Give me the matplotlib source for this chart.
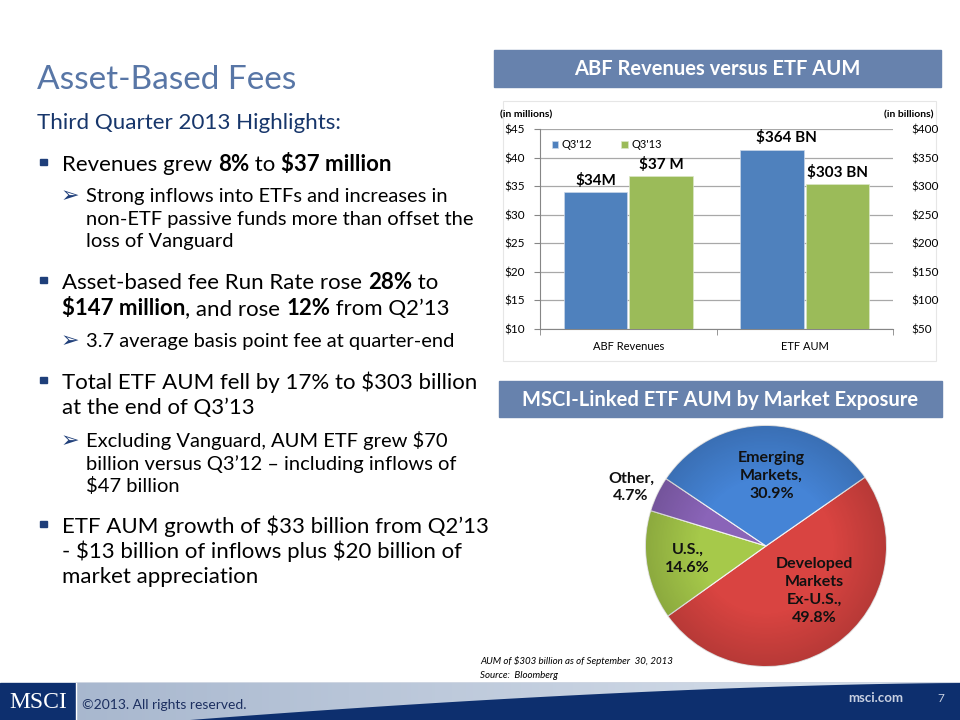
import matplotlib
matplotlib.use("Agg")
import matplotlib.pyplot as plt
from matplotlib.patches import Rectangle, Polygon, Circle
from matplotlib.font_manager import FontProperties
import numpy as np

FONT = "Lato"
plt.rcParams["font.family"] = [FONT, "DejaVu Sans"]
plt.rcParams["text.parse_math"] = False

# ---------------- data ----------------
bar_categories = ["ABF Revenues", "ETF AUM"]
series_names = ["Q3'12", "Q3'13"]
abf_revenues = [34.0, 36.8]        # $ millions, left axis
etf_aum = [364, 303]               # $ billions, right axis
abf_value_labels = ["$34M", "$37 M"]
etf_value_labels = ["$364 BN", "$303 BN"]
left_ticks = [10, 15, 20, 25, 30, 35, 40, 45]
right_ticks = [50, 100, 150, 200, 250, 300, 350, 400]

pie_names = ["Developed\nMarkets\nEx-U.S.,", "U.S.,", "Other,", "Emerging\nMarkets,"]
pie_values = [49.8, 14.6, 4.7, 30.9]

# ---------------- styles ----------------
BLUE = "#4f81bd"
GREEN = "#9bbb59"
PIE_COLORS = ["#d94441", "#a6c94a", "#8a64b8", "#4584d6"]
HEADER = "#6782ad"
NAVY = "#0d2f6e"
TITLE_C = "#5876a6"
SUB_C = "#17366b"

W, H = 960, 720
fig = plt.figure(figsize=(9.6, 7.2), dpi=100)
bg = fig.add_axes([0, 0, 1, 1], zorder=0)
bg.set_xlim(0, W)
bg.set_ylim(H, 0)
bg.axis("off")
renderer = fig.canvas.get_renderer()


def fax(l, t, r, b):
    return [l / W, 1 - b / H, (r - l) / W, (b - t) / H]


def twidth(s, size, bold=False, family=FONT):
    fp = FontProperties(family=family, size=size, weight="bold" if bold else "normal")
    w1, _, _ = renderer.get_text_width_height_descent("x" + s + "x", fp, ismath=False)
    w0, _, _ = renderer.get_text_width_height_descent("xx", fp, ismath=False)
    return w1 - w0


def fit(s, target, bold=False):
    return 10.0 * target / twidth(s, 10.0, bold)


def runs(x, y, parts, size, color="black"):
    for txt, b in parts:
        bg.text(x, y, txt, fontsize=size, fontweight="bold" if b else "normal",
                color=color, va="baseline", ha="left")
        x += twidth(txt, size, b)


# ---------------- left text ----------------
title_size = fit("Asset-Based Fees", 252) * 1.03
bg.text(37, 89, "Asset-Based Fees", fontsize=title_size, color=TITLE_C, va="baseline")
sub_size = fit("Third Quarter 2013 Highlights:", 295) * 1.03
bg.text(37, 129, "Third Quarter 2013 Highlights:", fontsize=sub_size, color=SUB_C, va="baseline")

main_size = fit("ETF AUM growth of $33 billion from Q2\u201913", 412) * 1.035
small_size = fit("non-ETF passive funds more than offset the", 375) * 1.035

lines = [
    (171, "main", [("Revenues grew ", False), ("8%", True), (" to ", False), ("$37 million", True)]),
    (202, "sub", [("Strong inflows into ETFs and increases in", False)]),
    (225, "subc", [("non-ETF passive funds more than offset the", False)]),
    (247, "subc", [("loss of Vanguard", False)]),
    (289, "main", [("Asset-based fee Run Rate rose ", False), ("28%", True), (" to", False)]),
    (315, "mainc", [("$147 million", True), (", and rose ", False), ("12%", True), (" from Q2\u201913", False)]),
    (347, "sub", [("3.7 average basis point fee at quarter-end", False)]),
    (389, "main", [("Total ETF AUM fell by 17% to $303 billion", False)]),
    (414, "mainc", [("at the end of Q3\u201913", False)]),
    (447, "sub", [("Excluding Vanguard, AUM ETF grew $70", False)]),
    (470, "subc", [("billion versus Q3\u201912 \u2013 including inflows of", False)]),
    (492, "subc", [("$47 billion", False)]),
    (533, "main", [("ETF AUM growth of $33 billion from Q2\u201913", False)]),
    (558, "mainc", [("- $13 billion of inflows plus $20 billion of", False)]),
    (583, "mainc", [("market appreciation", False)]),
]
for y, kind, parts in lines:
    if kind.startswith("main"):
        runs(62, y, parts, main_size)
        if kind == "main":
            bg.add_patch(Rectangle((40, y - 12.5), 6.5, 6.5, color="#1f3f7a"))
    else:
        runs(86, y, parts, small_size)
        if kind == "sub":
            bg.text(61, y, "\u27a2", fontsize=small_size * 1.1, family="DejaVu Sans",
                    color="#1f3f7a", va="baseline")

# ---------------- header boxes ----------------
bg.add_patch(Rectangle((494, 50), 447, 37, color=HEADER))
bg.text(717.5, 69, "ABF Revenues versus ETF AUM", color="white", fontsize=14.5,
        fontweight="bold", ha="center", va="center")
bg.add_patch(Rectangle((499, 381), 443, 36, color=HEADER))
bg.text(720.5, 399.5, "MSCI-Linked ETF AUM by Market Exposure", color="white", fontsize=14.5,
        fontweight="bold", ha="center", va="center")

# chart frame
bg.add_patch(Rectangle((503, 101), 433, 260, fill=False, edgecolor="#e6e6e6", lw=0.8))
bg.text(500, 115, "(in millions)", fontsize=7.5, fontweight="bold", va="center", ha="left")
bg.text(934, 115, "(in billions)", fontsize=7.5, fontweight="bold", va="center", ha="right")

# ---------------- bar chart ----------------
ax = fig.add_axes(fax(540, 129, 893, 329), zorder=2)
ax.patch.set_alpha(0)
ax2 = ax.twinx()
x = np.arange(len(bar_categories))
bw, off = 0.36, 0.185
b1 = ax.bar(x[0] - off, abf_revenues[0], bw, color=BLUE, edgecolor="#c9d6e8", lw=0.5, zorder=3)
b2 = ax.bar(x[0] + off, abf_revenues[1], bw, color=GREEN, edgecolor="#dbe7c7", lw=0.5, zorder=3)
c1 = ax2.bar(x[1] - off, etf_aum[0], bw, color=BLUE, edgecolor="#c9d6e8", lw=0.5, zorder=3)
c2 = ax2.bar(x[1] + off, etf_aum[1], bw, color=GREEN, edgecolor="#dbe7c7", lw=0.5, zorder=3)

ax.set_xlim(-0.5, 1.5)
ax.set_ylim(left_ticks[0], left_ticks[-1])
ax2.set_ylim(right_ticks[0], right_ticks[-1])
ax.set_yticks(left_ticks)
ax.set_yticklabels([f"${v}" for v in left_ticks], fontsize=8.5)
ax2.set_yticks(right_ticks)
ax2.set_yticklabels([f"${v}" for v in right_ticks], fontsize=8.5)
ax.set_xticks(x)
ax.set_xticklabels(bar_categories, fontsize=8)
ax.set_xticks([-0.5, 0.5, 1.5], minor=True)
ax.tick_params(axis="x", which="major", length=0, pad=9)
ax.tick_params(axis="x", which="minor", length=4, color="#868686")
ax.tick_params(axis="y", length=4, color="#868686", pad=7)
ax2.tick_params(axis="y", length=0, pad=13)
ax.grid(axis="y", color="#a8a8a8", lw=0.9)
ax.set_axisbelow(True)
for s in ["top", "right"]:
    ax.spines[s].set_visible(False)
for s in ax2.spines.values():
    s.set_visible(False)
ax.spines["left"].set_color("#868686")
ax.spines["bottom"].set_color("#868686")

for bar, lab in zip([b1[0], b2[0]], abf_value_labels):
    ax.annotate(lab, (bar.get_x() + bar.get_width() / 2, bar.get_height()),
                xytext=(0, 3), textcoords="offset points", ha="center", va="bottom",
                fontsize=11, fontweight="bold")
for bar, lab, dx in zip([c1[0], c2[0]], etf_value_labels, [10, 0]):
    ax2.annotate(lab, (bar.get_x() + bar.get_width() / 2, bar.get_height()),
                 xytext=(dx, 3), textcoords="offset points", ha="center", va="bottom",
                 fontsize=11, fontweight="bold")

ax.legend([b1[0], b2[0]], series_names, loc="upper left", bbox_to_anchor=(0.005, 1.0),
          ncol=2, frameon=False, fontsize=8, handlelength=0.6, handleheight=0.6,
          columnspacing=2.6, handletextpad=0.3)

# ---------------- pie ----------------
axp = fig.add_axes(fax(643, 423, 889, 669), zorder=2)
wedges, _ = axp.pie(pie_values, colors=PIE_COLORS, startangle=34.8, counterclock=False,
                    radius=1.0, wedgeprops=dict(edgecolor="#f4f4f4", linewidth=0.8))
axp.set_xlim(-1.02, 1.02)
axp.set_ylim(-1.02, 1.02)
axp.set_aspect("equal")

# subtle shading overlay
yy, xx = np.mgrid[-1:1:200j, -1:1:200j]
shade = np.zeros((200, 200, 4))
r = np.sqrt(xx ** 2 + yy ** 2)
shade[..., 3] = np.clip((r - 0.55) * 0.35, 0, 0.16)
im = axp.imshow(shade, extent=(-1, 1, -1, 1), origin="lower", zorder=5)
im.set_clip_path(Circle((0, 0), 1.0, transform=axp.transData))

label_dist = [0.55, 0.66, 1.22, 0.58]
label_rot = [12, 0, 2, -5]
for wdg, name, val, d, rot in zip(wedges, pie_names, pie_values, label_dist, label_rot):
    ang = np.deg2rad((wdg.theta1 + wdg.theta2) / 2 + rot)
    axp.text(d * np.cos(ang), d * np.sin(ang), f"{name}\n{val:.1f}%", ha="center", va="center",
             fontsize=11.5, fontweight="bold", color="#111111", linespacing=1.35, zorder=6)

bg.text(480, 661, "AUM of $303 billion as of September  30, 2013", fontsize=7,
        style="italic", va="center")
bg.text(480, 676, "Source:  Bloomberg", fontsize=7, style="italic", va="center")

# ---------------- footer ----------------
bg.add_patch(Rectangle((0, 683), W, 37, color=NAVY, zorder=1))
cx = np.linspace(190, 960, 40)
cy = 683 + 37 * ((960 - cx) / 770) ** 1.6
poly = [(76, 683), (960, 683)] + list(zip(cx[::-1], cy[::-1])) + [(76, 720)]
lp = Polygon(poly, closed=True, facecolor="none", edgecolor="none", zorder=2)
bg.add_patch(lp)
grad = np.linspace(0, 1, 256)[None, :]
cols = np.zeros((1, 256, 3))
c0 = np.array([0.66, 0.72, 0.81])
c1c = np.array([0.86, 0.89, 0.93])
for i in range(3):
    cols[0, :, i] = c0[i] + (c1c[i] - c0[i]) * grad[0]
gim = bg.imshow(cols, extent=(76, 960, 720, 683), aspect="auto", zorder=2)
gim.set_clip_path(lp)
bg.set_xlim(0, W)
bg.set_ylim(H, 0)
bg.plot([76, 76], [683, 720], color="white", lw=1, zorder=3)
bg.text(38, 702, "MSCI", family="Liberation Serif", fontsize=17, color="white",
        ha="center", va="center", zorder=4)
bg.text(82, 705, "\u00a92013. All rights reserved.", fontsize=10, color="#1c2f60",
        va="center", zorder=4)
bg.text(876, 698, "msci.com", fontsize=9.5, fontweight="bold", color="#c9d1e2",
        ha="center", va="center", zorder=4)
bg.text(941, 698, "7", fontsize=8.5, color="#c9d1e2", ha="center", va="center", zorder=4)

fig.savefig("out.png", dpi=100)
